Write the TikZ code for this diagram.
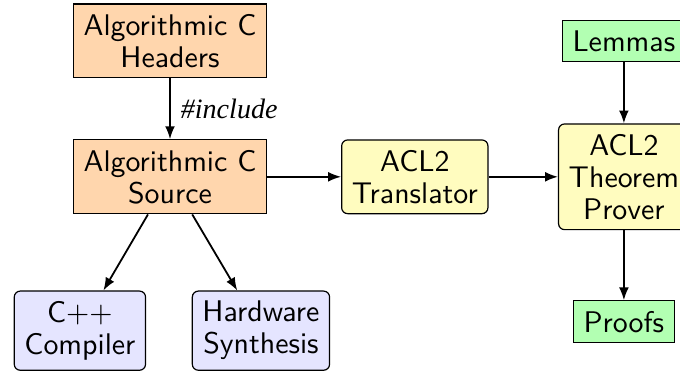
\documentclass[tikz,border=0pt]{standalone}
\usepackage{fontspec}
\usepackage{xcolor}
\usepackage{tikz}
\usetikzlibrary{shapes,arrows,positioning,calc,arrows.meta}
\newfontfamily\labelfont{Liberation Serif}

\begin{document}
\begin{tikzpicture}[
    auto,
    block/.style={rectangle, draw, align=center, inner sep=3.4pt, font=\sffamily\fontsize{10}{10.7}\selectfont},
    srcblock/.style={block, fill=orange!32},
    toolblock/.style={block, rounded corners=2pt, fill=yellow!25},
    outblock/.style={block, rounded corners=2pt, fill=blue!10},
    proofblock/.style={block, fill=green!30},
    arrow/.style={semithick, -{Latex[length=4.3pt, width=3.3pt]}}
]
    \useasboundingbox (-2.0, 2.08) rectangle (6.0, -2.305);

    \node[srcblock] (H) at (0, 1.60) {Algorithmic C\\Headers};
    \node[srcblock] (S) at (0, 0) {Algorithmic C\\Source};
    \node[toolblock] (T) at (2.88, 0) {ACL2\\Translator};
    \node[toolblock] (P) at (5.34, 0) {ACL2\\Theorem\\Prover};
    \node[proofblock] (L) at (5.34, 1.60) {Lemmas};
    \node[proofblock] (F) at (5.34, -1.705) {Proofs};
    \node[outblock] (C) at (-1.06, -1.81) {C++\\Compiler};
    \node[outblock] (W) at (1.07, -1.81) {Hardware\\Synthesis};

    \draw[arrow] (H) -- node[font=\labelfont\itshape\fontsize{9.4}{11}\selectfont] {\#include} (S);
    \draw[arrow] (S) -- (T);
    \draw[arrow] (T) -- (P);
    \draw[arrow] (L) -- (P);
    \draw[arrow] (P) -- (F);
    \draw[arrow] (S) -- (C);
    \draw[arrow] (S) -- (W);

\end{tikzpicture}
\end{document}
